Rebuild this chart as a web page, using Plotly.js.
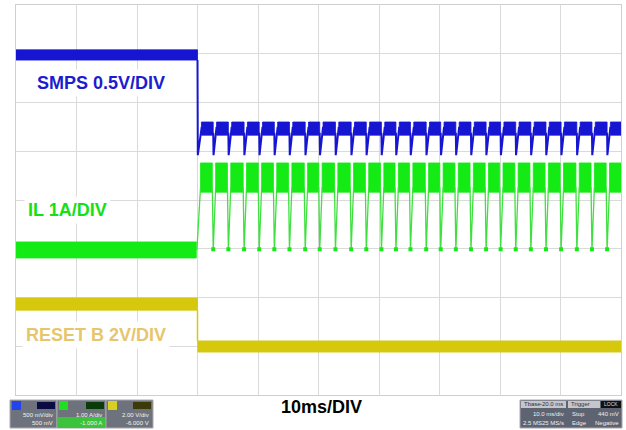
<!DOCTYPE html>
<html><head><meta charset="utf-8">
<script src="https://cdn.plot.ly/plotly-3.0.1.min.js"></script>
<style>html,body{margin:0;padding:0;background:#fff}#chart{width:626px;height:430px}</style>
</head><body><div id="chart"></div>
<script>
// Time axis in ms (10 ms/div), vertical axis in screen divisions (0 = bottom, 8 = top)
const stepTime = 30.0;
const pulseTimes = [30.1, 32.6, 35.1, 37.7, 40.2, 42.7, 45.2, 47.8, 50.2, 52.8, 55.4, 57.9, 60.4, 62.8,
                    65.2, 67.8, 70.2, 72.7, 75.2, 77.7, 80.1, 82.6, 85.1, 87.6, 90.1, 92.7, 95.2, 97.7];
// SMPS (blue) levels [band low, band high], dip bottom
const smpsBefore = [6.87, 7.08];
const smpsAfter = [5.33, 5.60];
const smpsDip = 4.92;
// IL (green) levels
const ilBefore = [2.81, 3.14];
const ilAfter = [4.16, 4.76];
const ilSpike = 2.97;
// RESET B (yellow) levels
const rstBefore = [1.74, 1.99];
const rstAfter = [0.88, 1.11];
// channel ground markers (div)
const groundLevels = [5.03, 3.04, 1.03];
const labels = ['SMPS 0.5V/DIV', 'IL 1A/DIV', 'RESET B 2V/DIV'];
const timebaseLabel = '10ms/DIV';
const chanScale = ['500 mV/div', '1.00 A/div', '2.00 V/div'];
const chanOffset = ['500 mV', '-1.000 A', '-6.000 V'];

const T_END = 100;
const BLUE = '#1616d2', GREEN = '#14ea14', YEL = '#d6c80c';

function band(xs, ys, x0, x1, lv) {
  xs.push(x0, x1, x1, x0, x0, null);
  ys.push(lv[0], lv[0], lv[1], lv[1], lv[0], null);
}

// Blue
const bX = [], bY = [], bLX = [], bLY = [];
band(bX, bY, 0, stepTime, smpsBefore);
pulseTimes.forEach((t, k) => {
  const end = k + 1 < pulseTimes.length ? pulseTimes[k + 1] : T_END;
  band(bX, bY, t + 0.55, end, smpsAfter);
  if (k === 0) { bLX.push(stepTime, stepTime + 0.05, t + 0.6, null); bLY.push(smpsBefore[0], smpsDip, smpsAfter[1] - 0.1, null); }
  else { bLX.push(t, t + 0.05, t + 0.55, null); bLY.push(smpsAfter[0] + 0.05, smpsDip, smpsAfter[1] - 0.1, null); }
});
// Green
const gX = [], gY = [], gLX = [], gLY = [];
band(gX, gY, 0, stepTime - 0.2, ilBefore);
pulseTimes.forEach((t, k) => {
  const end = k + 1 < pulseTimes.length ? pulseTimes[k + 1] - 0.15 : T_END;
  band(gX, gY, t + 0.4, end, ilAfter);
  if (k === 0) { gLX.push(t - 0.2, t + 0.4, null); gLY.push(ilSpike, ilAfter[0] + 0.1, null); }
  else { gLX.push(t - 0.15, t, t + 0.4, null); gLY.push(ilAfter[0] + 0.1, ilSpike, ilAfter[0] + 0.1, null); }
});
// Yellow
const yX = [], yY = [];
band(yX, yY, 0, stepTime, rstBefore);
band(yX, yY, stepTime + 0.05, T_END, rstAfter);

const fillTrace = (x, y, c) => ({x, y, mode: 'lines', fill: 'toself', fillcolor: c, line: {width: 0.8, color: c}, hoverinfo: 'skip', showlegend: false});
const traces = [
  fillTrace(yX, yY, YEL),
  {x: [stepTime, stepTime], y: [rstBefore[0], rstAfter[1]], mode: 'lines', line: {color: YEL, width: 1.5}, showlegend: false},
  fillTrace(gX, gY, GREEN),
  {x: gLX, y: gLY, mode: 'lines', line: {color: '#3fe03f', width: 1.3}, showlegend: false},
  {x: pulseTimes.slice(1), y: pulseTimes.slice(1).map(() => ilSpike + 0.02), mode: 'markers', marker: {symbol: 'square', size: 4, color: GREEN}, showlegend: false},
  fillTrace(bX, bY, BLUE),
  {x: bLX, y: bLY, mode: 'lines', line: {color: BLUE, width: 2}, showlegend: false},
  // ground markers
  {x: [-0.5, -0.5, -0.5], y: groundLevels, mode: 'markers', cliponaxis: false,
   marker: {symbol: 'square', size: 5, color: ['#8a8ae6', '#8ee88e', '#e0e08a']}, showlegend: false},
  // trigger position / level markers
  {x: [stepTime], y: [-0.07], mode: 'markers', cliponaxis: false, marker: {symbol: 'triangle-up', size: 6, color: BLUE}, showlegend: false},
  {x: [100.3], y: [5.9], mode: 'markers', cliponaxis: false, marker: {symbol: 'triangle-left', size: 5, color: BLUE}, showlegend: false}
];

const px = p => (p - 16) / 605, py = p => (395 - p) / 390;
const shapes = [], ann = [];
function rect(x0, y0, x1, y1, fill, lc) {
  shapes.push({type: 'rect', xref: 'paper', yref: 'paper', x0: px(x0), x1: px(x1), y0: py(y1), y1: py(y0),
    fillcolor: fill, line: {width: lc ? 1 : 0, color: lc || fill}, layer: 'above'});
}
function txt(s, x, y, anchor, size, color, bold) {
  ann.push({text: bold ? '<b>' + s + '</b>' : s, xref: 'paper', yref: 'paper', x: px(x), y: py(y), xanchor: anchor, yanchor: 'middle',
    showarrow: false, font: {family: 'Liberation Sans, Arial, sans-serif', size, color}});
}
// channel boxes
const boxX = [[10, 57], [57, 106], [106, 153]];
const sqCol = ['#2244e8', '#22dd22', '#d8d020'];
const darkCol = ['#0b0b44', '#0a3c0a', '#3c3a08'];
boxX.forEach((b, i) => {
  rect(b[0], 400, b[1], 428, '#6e727c', '#a8aab0');
  if (i === 1) rect(b[0] + 1, 417, b[1] - 1, 427.5, '#3cc23c');
  rect(b[0] + 2, 401, b[0] + 11, 410, sqCol[i]);
  rect(b[1] - 20, 402, b[1] - 2, 409, darkCol[i]);
  txt(chanScale[i], b[1] - 2, 414.5, 'right', 6, '#f2f2f2');
  txt(chanOffset[i], b[1] - 2, 423, 'right', 6, '#f2f2f2');
});
// timebase / trigger box
rect(520, 400, 622, 428, '#5e6372', '#a8aab0');
rect(521, 401, 566, 408, '#c4c6cc');
rect(568, 401, 600, 408, '#c4c6cc');
rect(601, 401, 621, 408, '#111111');
txt('Tbase', 522, 404.5, 'left', 6, '#333');
txt('-20.0 ms', 565, 404.5, 'right', 6, '#333');
txt('Trigger', 569, 404.5, 'left', 6, '#333');
txt('LOCK', 611, 404.5, 'center', 5, '#ddd');
txt('10.0 ms/div', 566, 413.5, 'right', 6, '#eee');
txt('Stop', 570, 413.5, 'left', 6, '#eee');
txt('440 mV', 621, 413.5, 'right', 6, '#eee');
txt('2.5 MS', 521, 423, 'left', 6, '#eee');
txt('25 MS/s', 566, 423, 'right', 6, '#eee');
txt('Edge', 570, 423, 'left', 6, '#eee');
txt('Negative', 621, 423, 'right', 6, '#eee');

// waveform labels
const lab = (s, x, y, c) => ann.push({text: '<b>' + s + '</b>', xref: 'paper', yref: 'paper', x: px(x), y: py(y), xanchor: 'left', yanchor: 'middle',
  showarrow: false, bgcolor: '#ffffff', borderpad: 3, font: {family: 'Liberation Sans, Arial, sans-serif', size: 18, color: c}});
lab(labels[0], 33, 83, '#1c1cd0');
lab(labels[1], 24, 210, '#14e014');
lab(labels[2], 22, 335, '#e6c66c');
txt(timebaseLabel, 321, 407, 'center', 18, '#000', true);

const layout = {
  width: 626, height: 430,
  margin: {l: 16, r: 5, t: 5, b: 35},
  paper_bgcolor: '#fff', plot_bgcolor: '#fff',
  xaxis: {range: [0, 100], dtick: 10, tick0: 0, showticklabels: false, ticks: '', zeroline: false,
          showgrid: true, gridcolor: '#dadada', gridwidth: 1, showline: true, mirror: true, linecolor: '#cfcfcf', linewidth: 1},
  yaxis: {range: [0, 8], dtick: 1, tick0: 0, showticklabels: false, ticks: '', zeroline: false,
          showgrid: true, gridcolor: '#dadada', gridwidth: 1, showline: true, mirror: true, linecolor: '#cfcfcf', linewidth: 1},
  shapes, annotations: ann, showlegend: false
};
Plotly.newPlot('chart', traces, layout, {staticPlot: true, displayModeBar: false});
</script></body></html>
